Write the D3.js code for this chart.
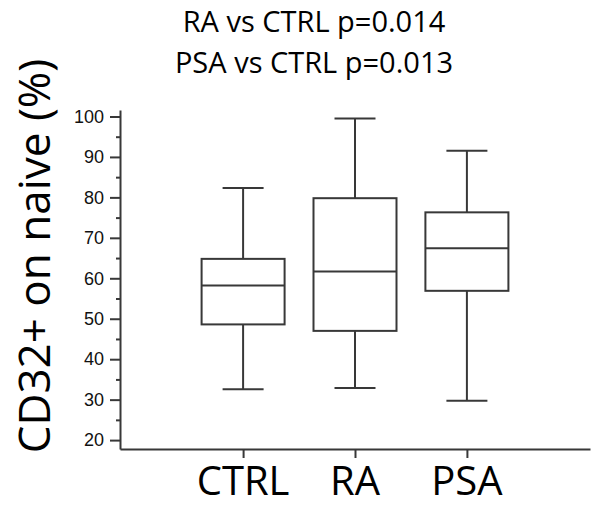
<!DOCTYPE html>
<html>
<head>
<meta charset="utf-8">
<script src="https://cdn.jsdelivr.net/npm/d3@7"></script>
<style>
  html, body { margin: 0; padding: 0; background: #fff; }
  svg { display: block; }
</style>
</head>
<body>
<svg id="chart" width="592" height="506"></svg>
<script>
// Groups and box-plot summaries (CD32+ on naive cells, %)
const groups = ["CTRL", "RA", "PSA"];
const whiskerLow  = [32.6, 32.9, 29.7];
const q1          = [48.6, 47.0, 56.9];
const median      = [58.2, 61.7, 67.4];
const q3          = [64.8, 79.8, 76.3];
const whiskerHigh = [82.3, 99.5, 91.5];

const yTicks = [20, 30, 40, 50, 60, 70, 80, 90, 100];
const yMinorTicks = [25, 35, 45, 55, 65, 75, 85, 95];
const titleLines = ["RA vs CTRL p=0.014", "PSA vs CTRL p=0.013"];
const yTitle = "CD32+ on naive (%)";

const ink = "#383838";
const svg = d3.select("#chart");

const x = d3.scalePoint().domain(groups).range([120, 590]).padding(1.1);
const y = d3.scaleLinear().domain([17.8, 101.6]).range([449, 110]);

const boxW = 83, capW = 41;

// Y axis: major ticks with labels, minor ticks without
const yAxis = svg.append("g").attr("transform", "translate(120,0)")
  .call(d3.axisLeft(y).tickValues(yTicks).tickSizeInner(10).tickSizeOuter(0).tickPadding(6));
yAxis.select(".domain").attr("stroke", ink).attr("stroke-width", 2);
yAxis.selectAll(".tick line").attr("stroke", ink).attr("stroke-width", 2);
yAxis.selectAll(".tick text")
  .attr("font-family", "'Liberation Sans', Arial, sans-serif")
  .attr("font-size", 18).attr("fill", "#111");

const yMinor = svg.append("g").attr("transform", "translate(120,0)")
  .call(d3.axisLeft(y).tickValues(yMinorTicks).tickSizeInner(4).tickSizeOuter(0).tickFormat(""));
yMinor.select(".domain").remove();
yMinor.selectAll(".tick line").attr("stroke", ink).attr("stroke-width", 2);

// X axis
const xAxis = svg.append("g").attr("transform", "translate(0,449)")
  .call(d3.axisBottom(x).tickSizeInner(9).tickSizeOuter(0).tickFormat(""));
xAxis.select(".domain").attr("stroke", ink).attr("stroke-width", 2);
xAxis.selectAll(".tick line").attr("stroke", ink).attr("stroke-width", 2);

// Category labels
svg.append("g").selectAll("text").data(groups).join("text")
  .attr("x", d => x(d)).attr("y", 495)
  .attr("text-anchor", "middle")
  .attr("font-family", "'Open Sans', sans-serif")
  .attr("font-size", 40).attr("fill", "#000")
  .text(d => d);

// Boxes
const boxes = svg.append("g").selectAll("g").data(groups).join("g");
boxes.each(function(d, i) {
  const g = d3.select(this);
  const cx = x(d);
  const line = (x1, y1, x2, y2) => g.append("line")
    .attr("x1", x1).attr("y1", y1).attr("x2", x2).attr("y2", y2)
    .attr("stroke", ink).attr("stroke-width", 2);
  // whiskers
  line(cx, y(whiskerHigh[i]), cx, y(q3[i]));
  line(cx, y(q1[i]), cx, y(whiskerLow[i]));
  line(cx - capW / 2, y(whiskerHigh[i]), cx + capW / 2, y(whiskerHigh[i]));
  line(cx - capW / 2, y(whiskerLow[i]), cx + capW / 2, y(whiskerLow[i]));
  // box
  g.append("rect")
    .attr("x", cx - boxW / 2).attr("y", y(q3[i]))
    .attr("width", boxW).attr("height", y(q1[i]) - y(q3[i]))
    .attr("fill", "none").attr("stroke", ink).attr("stroke-width", 2);
  // median
  line(cx - boxW / 2, y(median[i]), cx + boxW / 2, y(median[i]));
});

// Y title
svg.append("text")
  .attr("transform", "translate(50,256) rotate(-90)")
  .attr("text-anchor", "middle")
  .attr("font-family", "'Open Sans', sans-serif")
  .attr("font-size", 44).attr("fill", "#000")
  .text(yTitle);

// Title (two lines)
svg.append("g").selectAll("text").data(titleLines).join("text")
  .attr("x", 314).attr("y", (d, i) => 32 + i * 41)
  .attr("text-anchor", "middle")
  .attr("font-family", "'Open Sans', sans-serif")
  .attr("font-size", 29).attr("fill", "#000")
  .text(d => d);
</script>
</body>
</html>
